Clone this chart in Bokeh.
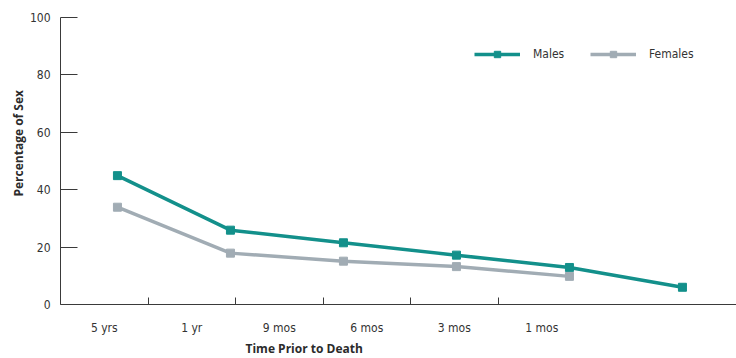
from bokeh.plotting import figure
from bokeh.models import (Range1d, LinearAxis, FixedTicker, Title, Legend, LegendItem)
from bokeh.embed import file_html
from bokeh.resources import INLINE

categories = ["5 yrs", "1 yr", "9 mos", "6 mos", "3 mos", "1 mos"]
males = [44.9, 25.9, 21.5, 17.2, 12.9, 6.0]
females = [33.9, 17.9, 15.1, 13.2, 9.8]
y_ticks = [0, 20, 40, 60, 80, 100]

TEAL = "#13908b"
GRAY = "#a1acb4"
AX = "#3a3a3a"
NARROW = "'DejaVu Sans Condensed', 'Liberation Sans Narrow', 'Roboto', sans-serif"
TITLE_FONT = "Open Sans"

FRAME_W = 676
p = figure(width=736, height=358, output_backend="svg", toolbar_location=None,
           x_range=Range1d(-0.504, -0.504 + FRAME_W / 113.0), y_range=Range1d(0, 100),
           min_border_left=60, min_border_right=0, min_border_top=17,
           min_border_bottom=54, x_axis_type=None, y_axis_type=None)
p.outline_line_color = None
p.grid.visible = False
p.background_fill_color = "white"
p.border_fill_color = "white"

# label axis range (category slots)
p.extra_x_ranges = {"lab": Range1d(0, FRAME_W / 87.5)}
xa = LinearAxis(x_range_name="lab",
                ticker=FixedTicker(ticks=[i + 0.5 for i in range(len(categories))],
                                   minor_ticks=[1, 2, 3, 4, 5]))
xa.major_label_overrides = {i + 0.5: c for i, c in enumerate(categories)}
xa.major_tick_in = 0
xa.major_tick_out = 0
xa.minor_tick_in = 7
xa.minor_tick_out = 0
xa.minor_tick_line_color = AX
xa.axis_line_color = AX
xa.major_label_standoff = 16
xa.major_label_text_font = NARROW
xa.major_label_text_font_size = "12px"
xa.major_label_text_color = "#333333"
p.add_layout(xa, "below")

ya = LinearAxis(ticker=FixedTicker(ticks=y_ticks))
ya.major_tick_in = 17
ya.major_tick_out = 0
ya.minor_tick_line_color = None
ya.major_tick_line_color = AX
ya.axis_line_color = AX
ya.major_label_standoff = 10
ya.major_label_text_font = NARROW
ya.major_label_text_font_size = "12px"
ya.major_label_text_color = "#333333"
p.add_layout(ya, "left")

xm = list(range(len(males)))
xf = list(range(len(females)))
lm = p.line(xm, males, line_color=TEAL, line_width=3.5)
sm = p.scatter(xm, males, marker="square", size=8, color=TEAL)
lf = p.line(xf, females, line_color=GRAY, line_width=3.5)
sf = p.scatter(xf, females, marker="square", size=8, color=GRAY)

def mk_legend(label, rends, x):
    lg = Legend(items=[LegendItem(label=label, renderers=rends)],
                location=(x, 242), orientation="horizontal",
                glyph_width=46, glyph_height=16, label_height=16,
                label_standoff=13, padding=0, margin=0, spacing=0,
                border_line_color=None, background_fill_alpha=0,
                label_text_font=NARROW, label_text_font_size="12px",
                label_text_color="#333333")
    p.add_layout(lg, "center")

mk_legend("Males", [lm, sm], 414)
mk_legend("Females", [lf, sf], 530)

p.add_layout(Title(text="Time Prior to Death", align="left", offset=185, standoff=1,
                   text_font=TITLE_FONT, text_font_style="bold",
                   text_font_size="12px", text_color="#2b2b2b"), "below")
p.add_layout(Title(text="Percentage of Sex", align="left", offset=108, standoff=0,
                   text_font=TITLE_FONT, text_font_style="bold",
                   text_font_size="12px", text_color="#2b2b2b"), "left")

open("out.html", "w").write(file_html(p, INLINE))
